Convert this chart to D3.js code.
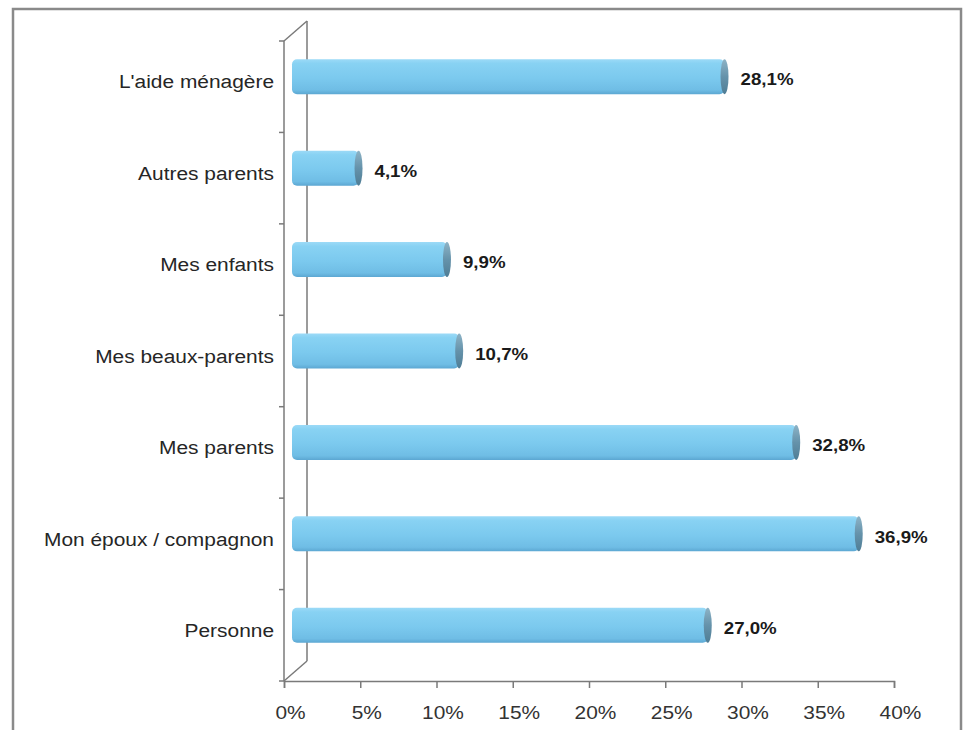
<!DOCTYPE html>
<html>
<head>
<meta charset="utf-8">
<script src="https://cdn.jsdelivr.net/npm/d3@7/dist/d3.min.js"></script>
<style>
  html, body { margin: 0; padding: 0; background: #fff; }
  svg { display: block; }
</style>
</head>
<body>
<script>
// Qui vous aide ? — share of answers per helper
const categories = ["L'aide ménagère", "Autres parents", "Mes enfants", "Mes beaux-parents",
                    "Mes parents", "Mon époux / compagnon", "Personne"];
const values = [28.1, 4.1, 9.9, 10.7, 32.8, 36.9, 27.0];
const xTicks = [0, 5, 10, 15, 20, 25, 30, 35, 40];
const xTickLabels = ["0%", "5%", "10%", "15%", "20%", "25%", "30%", "35%", "40%"];

const W = 964, H = 730;
const svg = d3.select("body").append("svg").attr("width", W).attr("height", H);

// 3D depth of the plot box (front plane -> back plane)
const depthX = 23, depthY = -20;
// bars sit roughly in the middle of the depth
const barDX = 12, barDY = -10;

const front = { left: 284, right: 894, top: 41, bottom: 681 };

const x = d3.scaleLinear().domain([0, 40]).range([front.left, front.right]);
const y = d3.scaleBand().domain(categories).range([front.top, front.bottom]);
const barH = 35;

const defs = svg.append("defs");
const gBar = defs.append("linearGradient").attr("id", "barFill")
  .attr("x1", 0).attr("y1", 0).attr("x2", 0).attr("y2", 1);
[[0, "#9cdaf7"], [0.12, "#88d2f3"], [0.55, "#7bc9ee"], [0.88, "#6fbde5"], [1, "#5ca7d2"]]
  .forEach(([o, c]) => gBar.append("stop").attr("offset", o).attr("stop-color", c));
const gCap = defs.append("linearGradient").attr("id", "capFill")
  .attr("x1", 0).attr("y1", 0).attr("x2", 0).attr("y2", 1);
[[0, "#8db3c6"], [0.5, "#6592aa"], [1, "#4f7d95"]]
  .forEach(([o, c]) => gCap.append("stop").attr("offset", o).attr("stop-color", c));

// outer frame
svg.append("rect").attr("x", 13).attr("y", 9).attr("width", 948).attr("height", 740)
  .attr("fill", "#fff").attr("stroke", "#8a8a8a").attr("stroke-width", 2.5);

const axisColor = "#7a7a7a";
const axes = svg.append("g").attr("stroke", axisColor).attr("stroke-width", 1.5).attr("fill", "none");

// back wall edge and the two depth diagonals
axes.append("line").attr("x1", x(0) + depthX).attr("y1", front.top + depthY)
  .attr("x2", x(0) + depthX).attr("y2", front.bottom + depthY);
axes.append("line").attr("x1", x(0)).attr("y1", front.top)
  .attr("x2", x(0) + depthX).attr("y2", front.top + depthY);
axes.append("line").attr("x1", x(0)).attr("y1", front.bottom)
  .attr("x2", x(0) + depthX).attr("y2", front.bottom + depthY);

// front vertical axis with ticks at band boundaries
axes.append("line").attr("x1", x(0)).attr("y1", front.top).attr("x2", x(0)).attr("y2", front.bottom);
const bounds = categories.map(c => y(c)).concat([front.bottom]);
axes.selectAll("line.ytick").data(bounds).join("line").attr("class", "ytick")
  .attr("x1", x(0) - 5).attr("x2", x(0)).attr("y1", d => d).attr("y2", d => d);

// bottom axis
const xAxis = d3.axisBottom(x).tickValues(xTicks).tickSize(7).tickPadding(10)
  .tickFormat((d, i) => xTickLabels[i]);
const gx = svg.append("g").attr("transform", `translate(0,${front.bottom})`).call(xAxis);
gx.select(".domain").attr("stroke", axisColor).attr("stroke-width", 1.5);
gx.selectAll(".tick line").attr("stroke", axisColor).attr("stroke-width", 1.5);
gx.selectAll(".tick text")
  .attr("fill", "#333").attr("font-family", "Liberation Sans, Arial, sans-serif")
  .attr("font-size", 19).attr("y", 0).attr("dy", 0)
  .attr("transform", "translate(6,38) scale(1.1,1)");

// category labels
const labelFont = "Liberation Sans, Arial, sans-serif";
svg.append("g").selectAll("text").data(categories).join("text")
  .attr("transform", d => `translate(274,${y(d) + y.bandwidth() / 2 - 5}) scale(1.1,1)`)
  .attr("text-anchor", "end").attr("dominant-baseline", "central")
  .attr("font-family", labelFont).attr("font-size", 19).attr("fill", "#262626")
  .text(d => d);

// cylinder bars
const bars = svg.append("g").selectAll("g").data(categories.map((c, i) => ({ c, v: values[i] })))
  .join("g");
const cy = d => y(d.c) + y.bandwidth() / 2 + barDY;
const x0 = x(0) + barDX - 4;
bars.append("rect")
  .attr("x", x0).attr("y", d => cy(d) - barH / 2)
  .attr("width", d => x(d.v) + barDX - x0).attr("height", barH)
  .attr("rx", 5).attr("fill", "url(#barFill)");
bars.append("ellipse")
  .attr("cx", d => x(d.v) + barDX).attr("cy", d => cy(d))
  .attr("rx", 4).attr("ry", barH / 2).attr("fill", "url(#capFill)");

// value labels
bars.append("text")
  .attr("transform", d => `translate(${x(d.v) + barDX + 16},${cy(d) + 3}) scale(1.1,1)`)
  .attr("dominant-baseline", "central")
  .attr("font-family", labelFont).attr("font-size", 17).attr("font-weight", "bold")
  .attr("fill", "#1a1a1a")
  .text(d => d.v.toFixed(1).replace(".", ",") + "%");
</script>
</body>
</html>
